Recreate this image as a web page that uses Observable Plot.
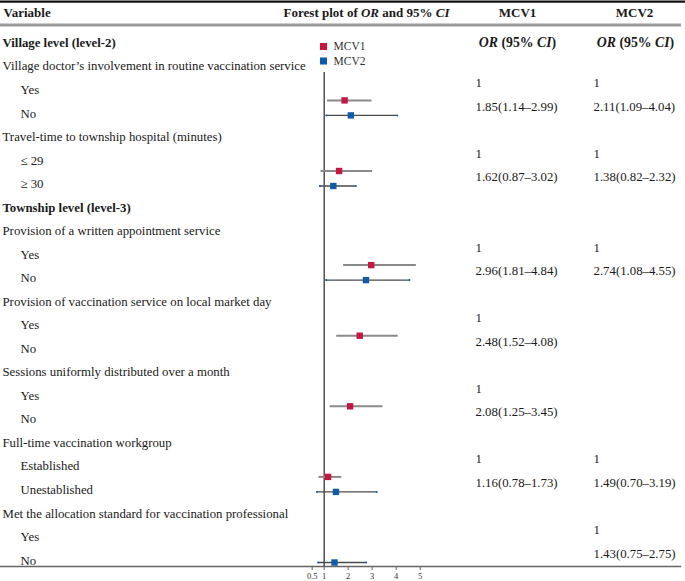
<!DOCTYPE html>
<html>
<head>
<meta charset="utf-8">
<script src="https://cdn.jsdelivr.net/npm/d3@7"></script>
<script src="https://cdn.jsdelivr.net/npm/@observablehq/plot@0.6"></script>
<style>
  html, body { margin: 0; padding: 0; background: #fff; }
  #chart svg { display: block; }
</style>
</head>
<body>
<div id="chart"></div>
<script>
// ---------- data ----------
const variableLabels = [
  "Village level (level-2)",
  "Village doctor’s involvement in routine vaccination service",
  "Yes", "No",
  "Travel-time to township hospital (minutes)",
  "≤ 29", "≥ 30",
  "Township level (level-3)",
  "Provision of a written appointment service",
  "Yes", "No",
  "Provision of vaccination service on local market day",
  "Yes", "No",
  "Sessions uniformly distributed over a month",
  "Yes", "No",
  "Full-time vaccination workgroup",
  "Established", "Unestablished",
  "Met the allocation standard for vaccination professional",
  "Yes", "No"
];
// 0 = level heading (bold), 1 = variable, 2 = category (indented)
const labelLevels = [0,1,2,2,1,2,2,0,1,2,2,1,2,2,1,2,2,1,2,2,1,2,2];

const seriesNames = ["MCV1", "MCV2"];
const seriesColors = ["#c4163f", "#0f5ba8"];

// row (1-based index into variableLabels) of the non-reference category
const mcv1Rows  = [4, 7, 11, 14, 17, 20];
const mcv1OR    = [1.85, 1.62, 2.96, 2.48, 2.08, 1.16];
const mcv1Lower = [1.14, 0.87, 1.81, 1.52, 1.25, 0.78];
const mcv1Upper = [2.99, 3.02, 4.84, 4.08, 3.45, 1.73];

const mcv2Rows  = [4, 7, 11, 20, 23];
const mcv2OR    = [2.11, 1.38, 2.74, 1.49, 1.43];
const mcv2Lower = [1.09, 0.82, 1.08, 0.70, 0.75];
const mcv2Upper = [4.04, 2.32, 4.55, 3.19, 2.75];

const xTicks = [0.5, 1, 2, 3, 4, 5];

// ---------- tables built from the arrays ----------
const labelRows = variableLabels.map((label, i) => ({label, row: i + 1, level: labelLevels[i]}));
const fmt = v => v.toFixed(2);
function series(name, rows, or, lo, hi) {
  return rows.map((row, i) => ({series: name, row, or: or[i], lo: lo[i], hi: hi[i],
    text: `${fmt(or[i])}(${fmt(lo[i])}–${fmt(hi[i])})`}));
}
const mcv1 = series("MCV1", mcv1Rows, mcv1OR, mcv1Lower, mcv1Upper);
const mcv2 = series("MCV2", mcv2Rows, mcv2OR, mcv2Lower, mcv2Upper);
const refRows = s => s.map(d => ({row: d.row - 1, text: "1"}));

const W = 685, H = 581;
const font = "'Liberation Serif', 'Times New Roman', serif";
const ink = "#1a1a1a";
const pxRow = px => 1 + (px - 42.3) / 23.53;   // layout helper for table rules

const colMCV1 = 475, colMCV2 = 593;
const hdr = {frameAnchor: "top-left", lineAnchor: "middle", dy: 12, fontWeight: "bold", fontSize: 13, fill: ink};

const marks = [
  // table rules
  Plot.ruleY([pxRow(1.2)], {stroke: "#111", strokeWidth: 2.2}),
  Plot.ruleY([pxRow(24.5)], {stroke: "#9a9a9a", strokeWidth: 3, insetRight: 4}),
  Plot.frame({anchor: "bottom", stroke: "#666", strokeWidth: 1.4, insetRight: 5}),

  // header
  Plot.text(["Variable"], {...hdr, dx: 3, textAnchor: "start"}),
  Plot.text(["Forest plot of *OR* and 95% *CI*"], {...hdr, dx: 449, textAnchor: "end"}),
  Plot.text([seriesNames[0]], {...hdr, dx: 517, textAnchor: "middle"}),
  Plot.text([seriesNames[1]], {...hdr, dx: 634, textAnchor: "middle"}),

  // variable column
  Plot.text(labelRows.filter(d => d.level === 0), {y: "row", text: "label", frameAnchor: "left", dx: 2,
    textAnchor: "start", fill: ink, fontSize: 12.8, fontWeight: "bold"}),
  Plot.text(labelRows.filter(d => d.level === 1), {y: "row", text: "label", frameAnchor: "left", dx: 2,
    textAnchor: "start", fill: ink, fontSize: 12.8}),
  Plot.text(labelRows.filter(d => d.level === 2), {y: "row", text: "label", frameAnchor: "left", dx: 20,
    textAnchor: "start", fill: ink, fontSize: 12.8}),

  // OR column subheaders
  Plot.text(["*OR* (95% *CI*)"], {y: [1], frameAnchor: "left", dx: 517, textAnchor: "middle", fontWeight: "bold", fontSize: 13.8, fill: ink}),
  Plot.text(["*OR* (95% *CI*)"], {y: [1], frameAnchor: "left", dx: 635, textAnchor: "middle", fontWeight: "bold", fontSize: 13.8, fill: ink}),

  // OR values
  Plot.text(refRows(mcv1).concat(mcv1), {y: "row", text: "text", frameAnchor: "left", dx: colMCV1, dy: -7, textAnchor: "start", fontSize: 12.8, fill: ink}),
  Plot.text(refRows(mcv2).concat(mcv2), {y: "row", text: "text", frameAnchor: "left", dx: colMCV2, dy: -7, textAnchor: "start", fontSize: 12.8, fill: ink}),

  // reference line at OR = 1
  Plot.ruleX([1], {y1: pxRow(72), y2: pxRow(566), stroke: "#444", strokeWidth: 1.4}),

  // confidence intervals
  Plot.ruleY(mcv1, {y: "row", x1: "lo", x2: "hi", dy: -13, stroke: "#8a8a8a", strokeWidth: 2}),
  Plot.ruleY(mcv2, {y: "row", x1: "lo", x2: "hi", dy: 2, stroke: "#4a4a4a", strokeWidth: 1.4}),
  Plot.dot(mcv2.flatMap(d => [{row: d.row, x: d.lo}, {row: d.row, x: d.hi}]), {y: "row", x: "x", dy: 2, r: 1, fill: seriesColors[1], stroke: "none"}),

  // point estimates
  Plot.dot(mcv1, {y: "row", x: "or", dy: -13, symbol: "square", r: 3.6, fill: seriesColors[0], stroke: "none"}),
  Plot.dot(mcv2, {y: "row", x: "or", dy: 2, symbol: "square", r: 3.6, fill: seriesColors[1], stroke: "none"}),

  // legend
  ...seriesNames.map((name, i) => Plot.dot([name], {frameAnchor: "top-left", dx: 323, dy: 46 + i * 14.5, symbol: "square", r: 4, fill: seriesColors[i], stroke: "none"})),
  ...seriesNames.map((name, i) => Plot.text([name], {frameAnchor: "top-left", lineAnchor: "middle", dx: 333, dy: 46 + i * 14.5, textAnchor: "start", fontSize: 11.5, fill: "#333"})),

  // x axis
  Plot.axisX({ticks: xTicks, tickFormat: d => String(d), anchor: "bottom", tickSize: 4, tickPadding: 2, fontSize: 8.5, label: null, stroke: "#666", fill: "#333"})
];

const svg = Plot.plot({
  width: W, height: H,
  marginTop: 0, marginLeft: 0, marginRight: 0, marginBottom: 15,
  style: {fontFamily: font, background: "#fff", overflow: "visible", color: "#333"},
  x: {type: "linear", domain: [0, 5], range: [299.7, 419.7], label: null},
  y: {type: "linear", domain: [1, 23], range: [42.3, 560], axis: null},
  marks
});

// render *...* segments as italic tspans
svg.querySelectorAll("text").forEach(t => {
  const s = t.textContent;
  if (!s.includes("*")) return;
  t.textContent = "";
  s.split("*").forEach((part, i) => {
    if (!part) return;
    const ts = document.createElementNS("http://www.w3.org/2000/svg", "tspan");
    if (i % 2 === 1) ts.setAttribute("font-style", "italic");
    ts.textContent = part;
    t.appendChild(ts);
  });
});

document.getElementById("chart").appendChild(svg);
</script>
</body>
</html>
